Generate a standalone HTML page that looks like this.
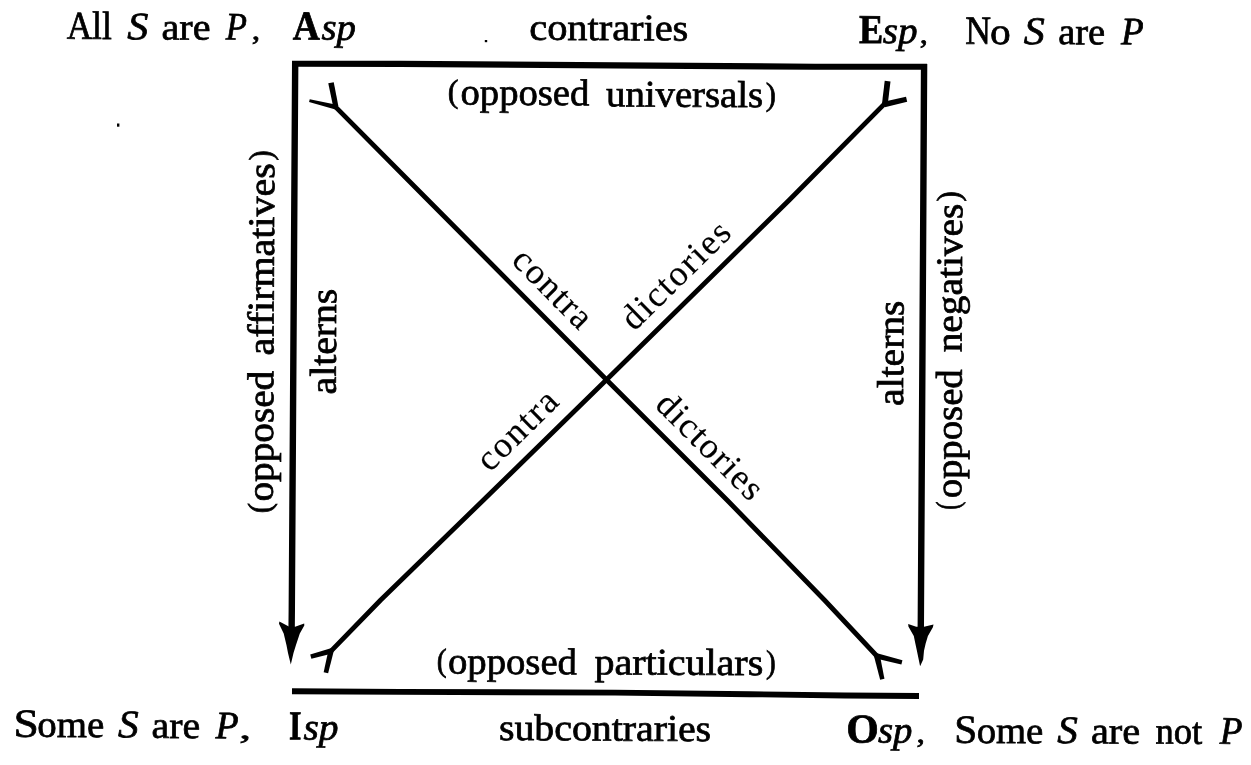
<!DOCTYPE html>
<html><head><meta charset="utf-8"><style>
html,body{margin:0;padding:0;background:#fff;}
svg{display:block;will-change:transform;}
text{font-family:"Liberation Serif",serif;fill:#000;stroke:#000;stroke-width:0.75px;}
.it{font-style:italic;}
.bd{font-weight:bold;}
.dg{stroke-width:0.15px;}
</style></head><body>
<svg width="1251" height="765" viewBox="0 0 1251 765">
<rect width="1251" height="765" fill="#fff"/>

<g stroke="#000" fill="none" stroke-linecap="butt" stroke-linejoin="round">
  <path d="M292,63.7 L400,63.9 L615,65.4 L815,66.7 L927,66.8" stroke-width="6.1"/>
  <path d="M295.2,61 L291.8,610 L291.5,640" stroke-width="6.4"/>
  <path d="M924.1,64 L922.5,345 L920.9,610 L920.7,640" stroke-width="6.4"/>
  <path d="M292,691.2 L400,691.9 L615,692.6 L750,694.2 L845,695.5 L919,696" stroke-width="5.9"/>
  <path d="M335,106.4 L427.9,200 L606.5,379.7 L727,500 L824.4,600 L877.3,656.5" stroke-width="4.8" />
  <path d="M885.2,103.1 L789.3,200 L606.5,379.7 L483.5,500 L380.7,600 L330.5,651.6" stroke-width="4.8" />
</g>
<g fill="#000">
<path d="M328.26,83.36 L333.25,107.02 L338.35,105.98 L333.74,82.24 Z"/>
<path d="M309.06,101.96 L335.42,109.53 L336.58,104.87 L309.74,99.24 Z"/>
<path d="M884.72,80.85 L881.92,104.15 L887.68,104.85 L890.48,81.55 Z"/>
<path d="M906.02,96.77 L883.56,101.78 L884.84,107.22 L907.18,101.63 Z"/>
<path d="M311.39,658.72 L332.23,653.40 L330.77,648.20 L310.21,654.48 Z"/>
<path d="M328.14,673.33 L333.83,650.82 L328.57,649.58 L323.66,672.27 Z"/>
<path d="M902.45,660.27 L877.18,653.19 L875.82,658.41 L901.35,664.53 Z"/>
<path d="M884.44,678.71 L879.72,654.53 L873.88,655.87 L880.16,679.69 Z"/>
</g>
<g fill="#000">
  <rect x="117" y="123.5" width="2.4" height="3.2"/>
  <rect x="484.8" y="40" width="2.4" height="2.2"/>
  <path d="M279.4,621.6 L288.8,626.5 L295.1,626.8 L304.2,623.6 L304.3,625.6 L299.8,633.5 L295.9,645.3 L293.5,653.1 L290.8,664.5 L288,653.1 L286.5,645.3 L283.7,633.5 L279,623.8 Z"/>
  <path d="M908.2,624 L916.2,626.8 L924,626.8 L933.5,624.4 L932.9,627.2 L927.9,635.9 L925.6,643.7 L924,650.8 L923.2,659.4 L920.1,666.2 L918.5,658.6 L916.9,650.8 L915.4,643.7 L913.8,635.9 L908.4,626.6 Z"/>
</g>

<text transform="translate(66.65,38.70) rotate(0.29) scale(0.8926,1)" font-size="39.5">All</text>
<text transform="translate(127.30,39.30) rotate(0.29) scale(1.0756,1)" font-size="39.0" class="it">S</text>
<text transform="translate(161.60,39.40) rotate(0.29) scale(1.0657,1)" font-size="37.5">are</text>
<text transform="translate(225.77,39.40) rotate(0.29) scale(0.8866,1)" font-size="39.0" class="it">P</text>
<text transform="translate(251.72,39.50) rotate(0.29) scale(1.1571,1)" font-size="29">,</text>
<text transform="translate(292.83,39.60) rotate(0.29) scale(0.9133,1)" font-size="41.0" class="bd">A</text>
<text transform="translate(321.44,39.60) rotate(0.29) scale(1.0295,1)" font-size="37.5" class="it">sp</text>
<text transform="translate(529.27,39.70) rotate(0.29) scale(1.0762,1)" font-size="37.5">contraries</text>
<text transform="translate(447.70,102.00) rotate(0.29) scale(0.9817,1)" font-size="32.5">(</text>
<text transform="translate(460.53,104.60) rotate(0.29) scale(1.0300,1)" font-size="37.5">opposed</text>
<text transform="translate(606.00,106.30) rotate(0.29) scale(1.0338,1)" font-size="37.5">universals</text>
<text transform="translate(765.73,105.00) rotate(0.29) scale(0.9339,1)" font-size="32.5">)</text>
<text transform="translate(858.98,42.90) rotate(0.29) scale(0.8836,1)" font-size="41.0" class="bd">E</text>
<text transform="translate(882.73,43.00) rotate(0.29) scale(1.0390,1)" font-size="37.5" class="it">sp</text>
<text transform="translate(919.78,43.20) rotate(0.29) scale(1.1109,1)" font-size="29">,</text>
<text transform="translate(965.27,43.80) rotate(0.29) scale(0.8881,1)" font-size="40.0">N</text>
<text transform="translate(990.03,44.00) rotate(0.29) scale(1.1006,1)" font-size="37.5">o</text>
<text transform="translate(1023.80,44.00) rotate(0.29) scale(1.0702,1)" font-size="39.0" class="it">S</text>
<text transform="translate(1058.16,44.10) rotate(0.29) scale(1.0217,1)" font-size="37.5">are</text>
<text transform="translate(1120.98,44.20) rotate(0.29) scale(0.9474,1)" font-size="39.0" class="it">P</text>
<text transform="translate(13.46,736.70) rotate(0.29) scale(1.1358,1)" font-size="40.0">S</text>
<text transform="translate(37.33,736.80) rotate(0.29) scale(1.0350,1)" font-size="37.5">ome</text>
<text transform="translate(118.11,737.30) rotate(0.29) scale(1.0539,1)" font-size="39.0" class="it">S</text>
<text transform="translate(151.61,737.80) rotate(0.29) scale(1.0588,1)" font-size="37.5">are</text>
<text transform="translate(215.49,738.20) rotate(0.29) scale(0.9648,1)" font-size="39.0" class="it">P</text>
<text transform="translate(239.21,738.50) rotate(0.29) scale(1.6200,1)" font-size="29">,</text>
<text transform="translate(289.02,739.30) rotate(0.29) scale(0.7750,1)" font-size="41.0" class="bd">I</text>
<text transform="translate(303.43,739.40) rotate(0.29) scale(1.0484,1)" font-size="37.5" class="it">sp</text>
<text transform="translate(498.97,740.00) rotate(0.29) scale(1.0613,1)" font-size="37.5">subcontraries</text>
<text transform="translate(436.70,671.00) rotate(0.29) scale(0.9099,1)" font-size="32.5">(</text>
<text transform="translate(448.03,673.60) rotate(0.29) scale(1.0316,1)" font-size="37.5">opposed</text>
<text transform="translate(594.56,674.30) rotate(0.29) scale(1.0659,1)" font-size="37.5">particulars</text>
<text transform="translate(766.07,672.80) rotate(0.29) scale(0.8979,1)" font-size="32.5">)</text>
<text transform="translate(846.25,742.40) rotate(0.29) scale(1.0187,1)" font-size="41.0" class="bd">O</text>
<text transform="translate(878.04,742.50) rotate(0.29) scale(1.0295,1)" font-size="37.5" class="it">sp</text>
<text transform="translate(916.42,742.60) rotate(0.29) scale(1.1571,1)" font-size="29">,</text>
<text transform="translate(954.24,742.80) rotate(0.29) scale(1.0304,1)" font-size="40.0">S</text>
<text transform="translate(976.63,742.90) rotate(0.29) scale(1.0317,1)" font-size="37.5">ome</text>
<text transform="translate(1057.21,743.10) rotate(0.29) scale(1.0485,1)" font-size="39.0" class="it">S</text>
<text transform="translate(1090.89,743.30) rotate(0.29) scale(1.0727,1)" font-size="37.5">are</text>
<text transform="translate(1155.56,743.50) rotate(0.29) scale(0.9736,1)" font-size="37.5">not</text>
<text transform="translate(1219.79,743.80) rotate(0.29) scale(0.9518,1)" font-size="39.0" class="it">P</text>
<text transform="translate(270.20,513.15) rotate(-89.71) scale(0.9458,1)" font-size="32.5">(</text>
<text transform="translate(272.80,501.49) rotate(-89.71) scale(1.0462,1)" font-size="37.5">opposed</text>
<text transform="translate(273.40,355.60) rotate(-89.71) scale(1.0657,1)" font-size="37.5">affirmatives</text>
<text transform="translate(271.40,160.57) rotate(-89.71) scale(0.9339,1)" font-size="32.5">)</text>
<text transform="translate(335.70,394.39) rotate(-89.71) scale(1.0568,1)" font-size="37.5">alterns</text>
<text transform="translate(903.00,405.88) rotate(-89.71) scale(1.0537,1)" font-size="37.5">alterns</text>
<text transform="translate(958.60,509.66) rotate(-89.71) scale(0.7423,1)" font-size="32.5">(</text>
<text transform="translate(961.20,498.37) rotate(-89.71) scale(1.0332,1)" font-size="37.5">opposed</text>
<text transform="translate(961.50,352.31) rotate(-89.71) scale(1.0496,1)" font-size="37.5">negatives</text>
<text transform="translate(959.20,201.38) rotate(-89.71) scale(0.9458,1)" font-size="32.5">)</text>
<text transform="translate(510.25,261.86) rotate(45.176)" font-size="36.0" letter-spacing="1.52" class="dg">contra</text>
<text transform="translate(653.69,406.32) rotate(44.952)" font-size="36.0" letter-spacing="1.52" class="dg">dictories</text>
<text transform="translate(634.35,331.99) rotate(-44.510)" font-size="36.0" letter-spacing="1.81" class="dg">dictories</text>
<text transform="translate(489.73,472.93) rotate(-44.364)" font-size="36.0" letter-spacing="1.82" class="dg">contra</text>
</svg>
</body></html>
